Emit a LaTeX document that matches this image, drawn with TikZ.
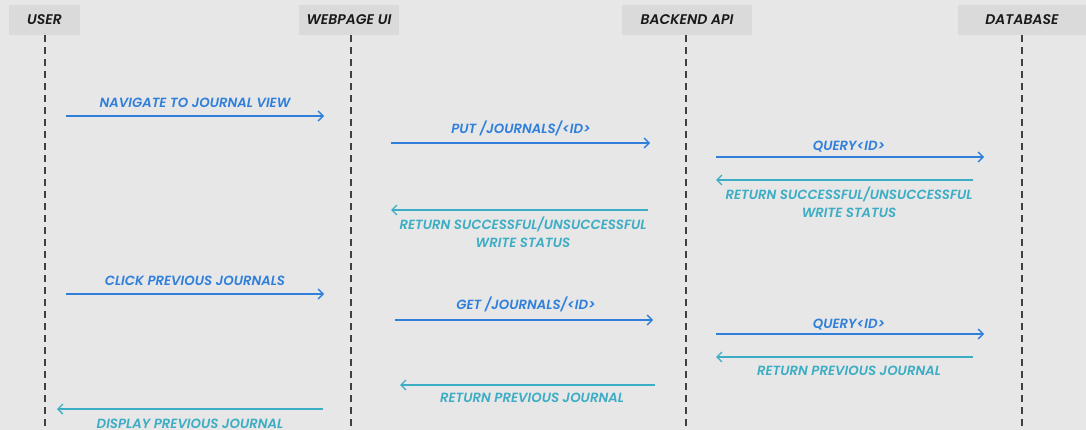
\documentclass[tikz,border=0pt]{standalone}
\usepackage{fontspec}
\setmainfont{Poppins}[BoldItalicFont={Poppins SemiBold Italic}]
\usetikzlibrary{arrows.meta}
\definecolor{bg}{HTML}{E7E7E7}
\definecolor{headbg}{HTML}{DADADA}
\definecolor{reqblue}{HTML}{2F7FDB}
\definecolor{retteal}{HTML}{3CADC4}
\definecolor{headtxt}{HTML}{1A1A1A}
\tikzset{
  head/.style={fill=headbg, draw=none, inner sep=0pt, text=headtxt, font=\fontsize{14}{16}\selectfont\bfseries\itshape},
  life/.style={draw=black!75, line width=1.3pt, dash pattern=on 7pt off 5pt},
  req/.style={draw=reqblue, line width=1.3pt, -{Straight Barb[length=5pt,width=10pt,line width=1.3pt]}},
  ret/.style={draw=retteal, line width=1.3pt, -{Straight Barb[length=5pt,width=10pt,line width=1.3pt]}},
  reqlbl/.style={text=reqblue, font=\fontsize{13.3}{18.5}\selectfont\bfseries\itshape, inner sep=0pt, align=center},
  retlbl/.style={text=retteal, font=\fontsize{13.3}{18.5}\selectfont\bfseries\itshape, inner sep=0pt, align=center},
}
\begin{document}
\begin{tikzpicture}[x=1pt,y=-1pt]
\useasboundingbox (0,0) rectangle (1086,430);
\fill[bg] (0,0) rectangle (1086,430);
% headers
\node[head, minimum width=71pt, minimum height=30pt] (user) at (44.5,20) {USER};
\node[head, minimum width=100pt, minimum height=30pt] (web) at (349,20) {WEBPAGE UI};
\node[head, minimum width=130pt, minimum height=30pt] (api) at (687,20) {BACKEND API};
\node[head, minimum width=128pt, minimum height=30pt] (db) at (1022,20) {DATABASE};
% lifelines
\coordinate (userend) at (45,430);
\coordinate (webend) at (351,430);
\coordinate (apiend) at (686,430);
\coordinate (dbend) at (1022,430);
\draw[life] (45,35) -- (userend);
\draw[life] (351,35) -- (webend);
\draw[life] (686,35) -- (apiend);
\draw[life] (1022,35) -- (dbend);
% message endpoints
\coordinate (m1a) at (66,116);  \coordinate (m1b) at (324,116);
\coordinate (m2a) at (391,143); \coordinate (m2b) at (650,143);
\coordinate (m3a) at (716,157); \coordinate (m3b) at (984,157);
\coordinate (m4a) at (973,180); \coordinate (m4b) at (716,180);
\coordinate (m5a) at (648,210); \coordinate (m5b) at (391,210);
\coordinate (m6a) at (66,294);  \coordinate (m6b) at (324,294);
\coordinate (m7a) at (395,320); \coordinate (m7b) at (653,320);
\coordinate (m8a) at (716,334); \coordinate (m8b) at (984,334);
\coordinate (m9a) at (973,357); \coordinate (m9b) at (716,357);
\coordinate (m10a) at (655,385); \coordinate (m10b) at (400,385);
\coordinate (m11a) at (323,409); \coordinate (m11b) at (57,409);
% arrows
\draw[req] (m1a) -- (m1b);
\draw[req] (m2a) -- (m2b);
\draw[req] (m3a) -- (m3b);
\draw[ret] (m4a) -- (m4b);
\draw[ret] (m5a) -- (m5b);
\draw[req] (m6a) -- (m6b);
\draw[req] (m7a) -- (m7b);
\draw[req] (m8a) -- (m8b);
\draw[ret] (m9a) -- (m9b);
\draw[ret] (m10a) -- (m10b);
\draw[ret] (m11a) -- (m11b);
% labels
\node[reqlbl] (l1) at (195,103) {NAVIGATE TO JOURNAL VIEW};
\node[reqlbl] (l2) at (521,128) {PUT /JOURNALS/<ID>};
\node[reqlbl] (l3) at (849,147) {QUERY<ID>};
\node[retlbl] (l4) at (849,202.5) {RETURN SUCCESSFUL/UNSUCCESSFUL\\WRITE STATUS};
\node[retlbl] (l5) at (523,232) {RETURN SUCCESSFUL/UNSUCCESSFUL\\WRITE STATUS};
\node[reqlbl] (l6) at (195,281) {CLICK PREVIOUS JOURNALS};
\node[reqlbl] (l7) at (526,304) {GET /JOURNALS/<ID>};
\node[reqlbl] (l8) at (849,325) {QUERY<ID>};
\node[retlbl] (l9) at (849,371) {RETURN PREVIOUS JOURNAL};
\node[retlbl] (l10) at (532,398) {RETURN PREVIOUS JOURNAL};
\node[retlbl] (l11) at (190,424) {DISPLAY PREVIOUS JOURNAL};
\end{tikzpicture}
\end{document}
